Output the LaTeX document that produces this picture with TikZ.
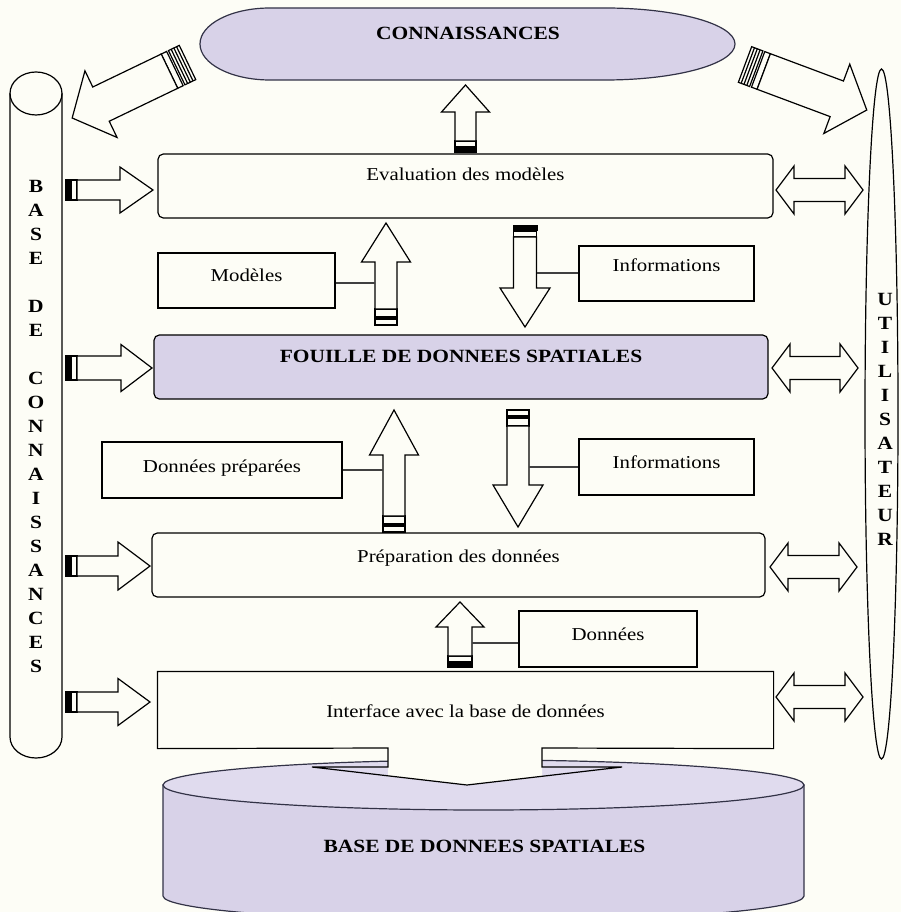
\documentclass[tikz,border=0pt]{standalone}
\usepackage{fontspec}
\setmainfont{Liberation Serif}[FakeStretch=1.15]
\definecolor{bg}{RGB}{253,253,246}
\definecolor{lav}{RGB}{216,210,232}
\definecolor{lavtop}{RGB}{224,219,238}
\definecolor{edge}{RGB}{50,50,70}

\begin{document}
\begin{tikzpicture}[x=0.75pt,y=-0.75pt,line width=0.9pt,font=\fontsize{13.6}{16}\selectfont,
    box/.style={draw,fill=bg,inner sep=0pt,anchor=base},
    rbox/.style={box,rounded corners=4pt},
    title/.style={font=\fontsize{14}{16}\selectfont\bfseries},
    vlet/.style={align=center,inner sep=0pt,font=\fontsize{14}{18}\selectfont\bfseries},
    link/.style={draw=black!75}]
    \useasboundingbox (0,0) rectangle (901,912);
    \fill[bg] (0,0) rectangle (901,912);
    \clip (0,0) rectangle (901,912);

    \draw[draw=edge,fill=lav] (163,785) -- (163,896) arc[start angle=180,end angle=0,x radius=320.5,y radius=25] -- (804,785) -- cycle;
    \draw[draw=edge,fill=lavtop] (483.5,785) ellipse (320.5 and 25);
    \node[title,anchor=base] (bds) at (484.5,852) {BASE DE DONNEES SPATIALES};

    \draw[draw=edge,fill=lav] (270,8) -- (605,8) arc[start angle=-90,end angle=90,x radius=130,y radius=36] -- (270,80) arc[start angle=90,end angle=270,x radius=70,y radius=36] -- cycle;
    \node[title,anchor=base] (conn) at (468,40) {CONNAISSANCES};

    \draw (10,93.5) -- (10,737) arc[start angle=180,end angle=0,x radius=26,y radius=21] -- (62,93.5);
    \draw (36,93.5) ellipse (26 and 21.5);
    \node[vlet] (bdc) at (36,426) {B\\A\\S\\E\\[18pt]D\\E\\[18pt]C\\O\\N\\N\\A\\I\\S\\S\\A\\N\\C\\E\\S};

    \draw (881.5,414) ellipse (16.5 and 345);
    \node[vlet] (util) at (885,419) {U\\T\\I\\L\\I\\S\\A\\T\\E\\U\\R};

    \node[rbox,minimum width=461.25pt,text height=20.25pt,text depth=27.75pt] (eval) at (465.5,181) {Evaluation des modèles};
    \node[box,minimum width=132.75pt,text height=21.75pt,text depth=19.5pt] (mod) at (246.5,282) {Modèles};
    \node[box,minimum width=131.25pt,text height=19.5pt,text depth=21.75pt] (inf1) at (666.5,272) {Informations};
    \node[rbox,title,fill=lav,minimum width=460.5pt,text height=20.25pt,text depth=27.75pt] (fouil) at (461,362) {FOUILLE DE DONNEES SPATIALES};
    \node[box,minimum width=180pt,text height=22.5pt,text depth=19.5pt] (dprep) at (222,472) {Données préparées};
    \node[box,minimum width=131.25pt,text height=21.75pt,text depth=20.25pt] (inf2) at (666.5,468) {Informations};
    \node[rbox,minimum width=459.75pt,text height=21.75pt,text depth=26.25pt] (prep) at (458.5,562) {Préparation des données};
    \node[box,minimum width=133.5pt,text height=21.75pt,text depth=20.25pt] (don) at (608,640) {Données};
    \node[box,draw=none,fill=none,minimum width=461.25pt,text height=33.75pt,text depth=23.25pt] (iface) at (465.5,717) {Interface avec la base de données};
    \fill[bg] (388,748) -- (542,748) -- (542,776) -- (467,785) -- (388,776) -- cycle;
    \draw (iface.south west) -- (iface.north west) -- (iface.north east) -- (iface.south east) -- (542,748) -- (542,767) -- (622,767) -- (467,785) -- (312,767) -- (388,767) -- (388,748) -- cycle;

    \foreach \x/\y/\a/\l/\hl/\sw/\hw in {65/190/0/88/33/10/23,65/368/0/87/31/12/23.5,65/566/0/85/32/10/24,65/702/0/85/32/10/23.5,465.5/153/90/68/27/10.5/24,525/225/-90/102/39/11.5/25,460/668/90/66/25/12/24} {
      \begin{scope}[shift={(\x,\y)},rotate=\a]
        \fill (0,-\sw-1) rectangle (6,\sw+1);
        \draw[fill=bg] (6,-\sw) rectangle (12,\sw);
        \draw[fill=bg] (12,-\sw) -- (\l-\hl,-\sw) -- (\l-\hl,-\hw) -- (\l,0) -- (\l-\hl,\hw) -- (\l-\hl,\sw) -- (12,\sw) -- cycle;
      \end{scope}
    }
    \foreach \x/\y/\a/\l/\hl/\sw/\hw in {386/325/90/102/39/11/24.5,394/532/90/122/45/11/24.5,518/410/-90/117/42/11/25} {
      \begin{scope}[shift={(\x,\y)},rotate=\a]
        \draw[fill=bg] (0,-\sw) rectangle (6,\sw);
        \draw[fill=bg] (8,-\sw) rectangle (16,\sw);
        \draw[fill=bg] (16,-\sw) -- (\l-\hl,-\sw) -- (\l-\hl,-\hw) -- (\l,0) -- (\l-\hl,\hw) -- (\l-\hl,\sw) -- (16,\sw) -- cycle;
      \end{scope}
    }
    \foreach \x/\y/\a/\l in {187.5/62.5/205.7/128,745/64.5/-20.5/130} {
      \begin{scope}[shift={(\x,\y)},rotate=\a]
        \draw[fill=bg] (0,-19) rectangle (12,19);
        \foreach \s in {3,6,9} \draw (\s,-19) -- (\s,19);
        \draw[fill=bg] (14,-19) rectangle (20,19);
        \draw[fill=bg] (20,-19) -- (\l-32,-19) -- (\l-32,-37) -- (\l,0) -- (\l-32,37) -- (\l-32,19) -- (20,19) -- cycle;
      \end{scope}
    }
    \foreach \x/\y/\l in {776/190/87,772/368/86,770/567/87,776/697/87} {
      \begin{scope}[shift={(\x,\y)}]
        \draw[fill=bg] (0,0) -- (18,-24) -- (18,-11.5) -- (\l-18,-11.5) -- (\l-18,-24) -- (\l,0) -- (\l-18,24) -- (\l-18,11.5) -- (18,11.5) -- (18,24) -- cycle;
      \end{scope}
    }

    \coordinate (modj) at (375,283);
    \coordinate (inf1j) at (536.5,273);
    \coordinate (dprj) at (383,470);
    \coordinate (inf2j) at (529,467);
    \coordinate (donj) at (472,643);
    \draw[link] (modj -| mod.east) -- (modj);
    \draw[link] (inf1j) -- (inf1j -| inf1.west);
    \draw[link] (dprj -| dprep.east) -- (dprj);
    \draw[link] (inf2j) -- (inf2j -| inf2.west);
    \draw[link] (donj) -- (donj -| don.west);
  \end{tikzpicture}
\end{document}
